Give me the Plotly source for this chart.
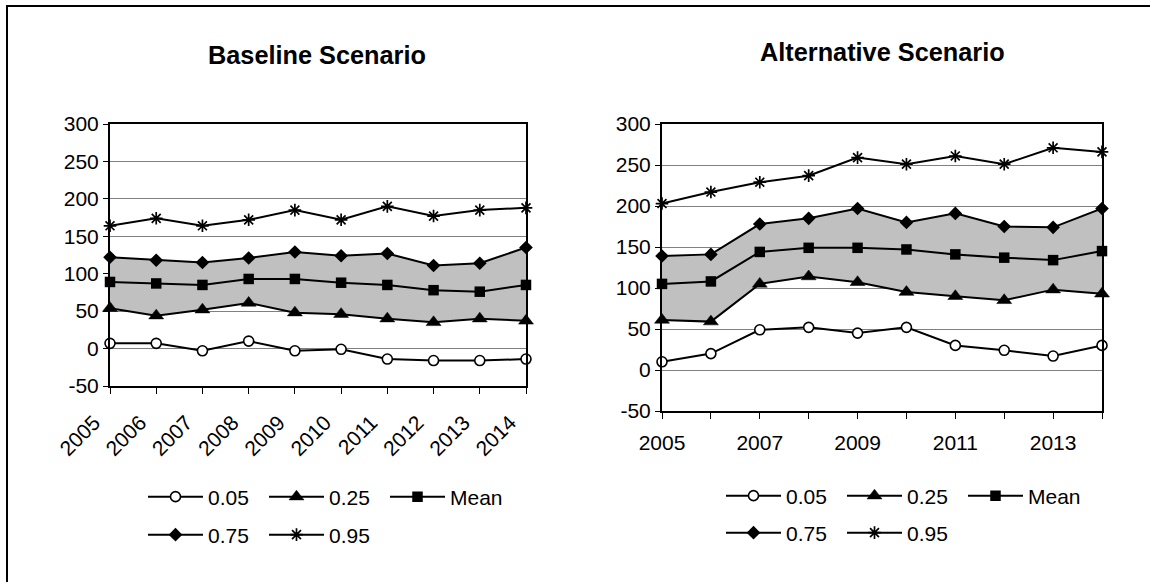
import plotly.graph_objects as go

W, H = 1150, 582

years = [2005, 2006, 2007, 2008, 2009, 2010, 2011, 2012, 2013, 2014]
year_labels = [str(y) for y in years]
right_year_labels = ["2005", "", "2007", "", "2009", "", "2011", "", "2013", ""]
y_ticks = [-50, 0, 50, 100, 150, 200, 250, 300]
y_tick_labels = ["-50", "0", "50", "100", "150", "200", "250", "300"]

series_names = ["0.05", "0.25", "Mean", "0.75", "0.95"]

base_q05 = [7, 7, -3, 10, -3, -1, -14, -16, -16, -14]
base_q25 = [54, 44, 52, 61, 48, 46, 40, 35, 40, 37]
base_mean = [89, 87, 85, 93, 93, 88, 85, 78, 76, 85]
base_q75 = [122, 118, 115, 121, 129, 124, 127, 111, 114, 135]
base_q95 = [164, 174, 164, 172, 185, 172, 190, 177, 185, 188]

alt_q05 = [10, 20, 49, 52, 45, 52, 30, 24, 17, 30]
alt_q25 = [61, 59, 105, 114, 107, 95, 90, 85, 98, 93]
alt_mean = [105, 108, 144, 149, 149, 147, 141, 137, 134, 145]
alt_q75 = [139, 141, 178, 185, 197, 180, 191, 175, 174, 197]
alt_q95 = [203, 217, 229, 237, 259, 251, 261, 251, 271, 266]

titles = ["Baseline Scenario", "Alternative Scenario"]

FONT = "Liberation Sans, Arial, sans-serif"
FS = 21


def px_x(p):
    return p / W


def px_y(p):
    return 1 - p / H


markers = {
    "0.05": dict(symbol="circle", size=10, color="white", line=dict(color="black", width=1.6)),
    "0.25": dict(symbol="triangle-up", size=13, color="black", line=dict(color="black", width=0.5)),
    "Mean": dict(symbol="square", size=10.5, color="black", line=dict(color="black", width=0)),
    "0.75": dict(symbol="diamond", size=10.5, color="black", line=dict(color="black", width=0)),
    "0.95": dict(symbol="asterisk-open", size=10.5, color="black", line=dict(color="black", width=1.7)),
}

fig = go.Figure()


def add_chart(xa, ya, q05, q25, mean, q75, q95, leg_a, leg_b):
    # shaded band between 0.25 and 0.75
    fig.add_trace(go.Scatter(x=years, y=q25, mode="lines", line=dict(width=0, color="rgba(0,0,0,0)"),
                             showlegend=False, hoverinfo="skip", xaxis=xa, yaxis=ya))
    fig.add_trace(go.Scatter(x=years, y=q75, mode="lines", line=dict(width=0, color="rgba(0,0,0,0)"),
                             fill="tonexty", fillcolor="#c0c0c0",
                             showlegend=False, hoverinfo="skip", xaxis=xa, yaxis=ya))
    data = {"0.05": q05, "0.25": q25, "Mean": mean, "0.75": q75, "0.95": q95}
    for name in series_names:
        legend = leg_a if name in ("0.05", "0.25", "Mean") else leg_b
        fig.add_trace(go.Scatter(
            x=years, y=data[name], name=name, mode="lines+markers",
            line=dict(color="black", width=2), marker=markers[name],
            cliponaxis=False, xaxis=xa, yaxis=ya, legend=legend,
        ))


add_chart("x", "y", base_q05, base_q25, base_mean, base_q75, base_q95, "legend", "legend2")
add_chart("x2", "y2", alt_q05, alt_q25, alt_mean, alt_q75, alt_q95, "legend3", "legend4")

axis_common = dict(
    showline=True, linecolor="black", linewidth=2, mirror=True,
    ticks="outside", ticklen=6, tickwidth=1, tickcolor="black", automargin=False,
    tickfont=dict(family=FONT, size=FS, color="black"), zeroline=False,
)
yaxis_common = dict(axis_common, range=[-50, 300], tickmode="array",
                    tickvals=y_ticks, ticktext=y_tick_labels,
                    showgrid=True, gridcolor="#808080", gridwidth=1, ticklen=5)

legend_common = dict(orientation="h", font=dict(family=FONT, size=FS, color="black"),
                     bgcolor="rgba(0,0,0,0)", borderwidth=0, itemwidth=55,
                     entrywidth=51, entrywidthmode="pixels", xanchor="left", yanchor="middle",
                     traceorder="normal", tracegroupgap=0, itemclick=False, itemdoubleclick=False)

fig.update_layout(
    width=W, height=H,
    margin=dict(l=0, r=0, t=0, b=0, autoexpand=False),
    paper_bgcolor="white", plot_bgcolor="white",
    font=dict(family=FONT, size=FS, color="black"),
    xaxis=dict(axis_common, domain=[px_x(110), px_x(526)], range=[2005, 2014],
               tickmode="array", tickvals=years, ticktext=year_labels, tickangle=-45,
               ticklabelshift=-16, ticklabelstandoff=8,
               showgrid=False, anchor="y"),
    yaxis=dict(yaxis_common, domain=[px_y(386), px_y(124)], anchor="x"),
    xaxis2=dict(axis_common, domain=[px_x(662), px_x(1102)], range=[2005, 2014],
                tickmode="array", tickvals=years, ticktext=right_year_labels, tickangle=0,
                ticklabelstandoff=6,
                showgrid=False, anchor="y2"),
    yaxis2=dict(yaxis_common, domain=[px_y(411), px_y(124)], anchor="x2"),
    legend=dict(legend_common, x=px_x(143), y=px_y(497)),
    legend2=dict(legend_common, x=px_x(143), y=px_y(535)),
    legend3=dict(legend_common, x=px_x(721), y=px_y(496)),
    legend4=dict(legend_common, x=px_x(721), y=px_y(533)),
    showlegend=True,
)

# chart titles
title_pos = [(317, 55), (882, 52)]
for t, (cx, cy) in zip(titles, title_pos):
    fig.add_annotation(text="<b>%s</b>" % t, x=px_x(cx), y=px_y(cy), xref="paper", yref="paper",
                       showarrow=False, xanchor="center", yanchor="middle",
                       font=dict(family=FONT, size=25.3, color="black"))

# outer frame
fig.add_shape(type="rect", xref="paper", yref="paper",
              x0=px_x(7), y0=-0.02, x1=1.02, y1=px_y(6),
              line=dict(color="black", width=2), fillcolor="rgba(0,0,0,0)", layer="above")

fig.write_html("out.html", config={"displayModeBar": False},
               post_script="document.body.style.margin='0px';")
